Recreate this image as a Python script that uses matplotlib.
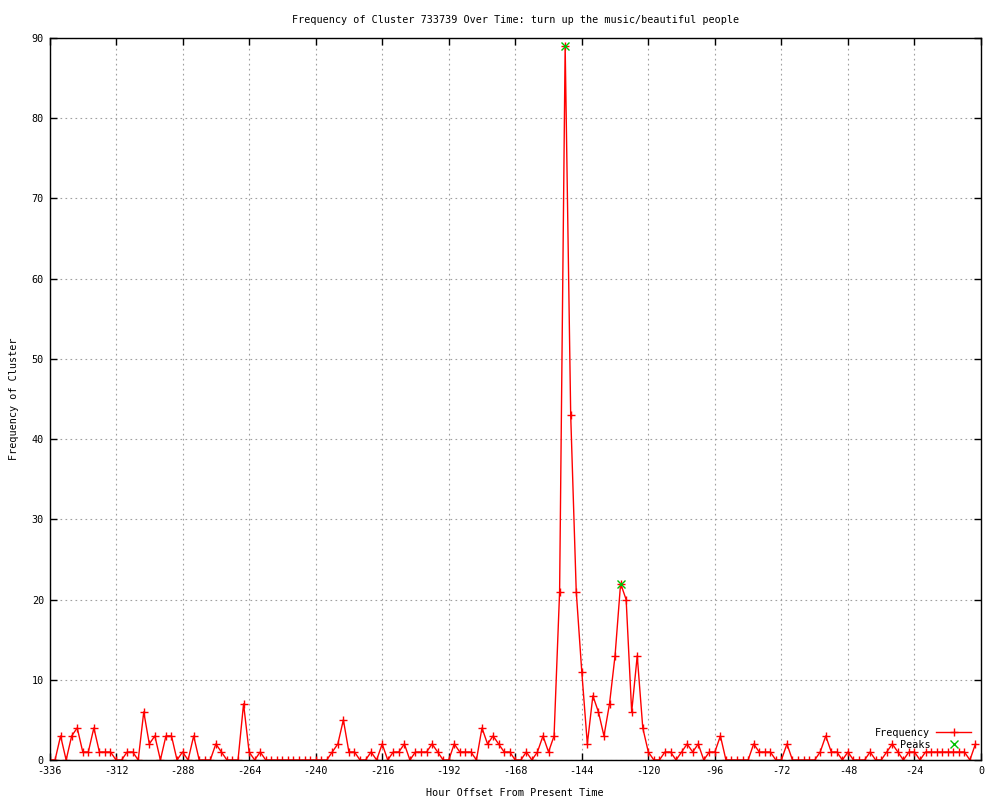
# Frequency of cluster over time (gnuplot-style line chart)
import numpy as np
from matplotlib import pyplot as plt

# hour offsets, one sample every 2 hours
hours = np.arange(-336, 0, 2)

freq = [
    0, 0, 3, 0, 3, 4, 1, 1, 4, 1, 1, 1, 0, 0, 1, 1, 0, 6, 2, 3,
    0, 3, 3, 0, 1, 0, 3, 0, 0, 0, 2, 1, 0, 0, 0, 7, 1, 0, 1, 0,
    0, 0, 0, 0, 0, 0, 0, 0, 0, 0, 0, 1, 2, 5, 1, 1, 0, 0, 1, 0,
    2, 0, 1, 1, 2, 0, 1, 1, 1, 2, 1, 0, 0, 2, 1, 1, 1, 0, 4, 2,
    3, 2, 1, 1, 0, 0, 1, 0, 1, 3, 1, 3, 21, 89, 43, 21, 11, 2, 8, 6,
    3, 7, 13, 22, 20, 6, 13, 4, 1, 0, 0, 1, 1, 0, 1, 2, 1, 2, 0, 1,
    1, 3, 0, 0, 0, 0, 0, 2, 1, 1, 1, 0, 0, 2, 0, 0, 0, 0, 0, 1,
    3, 1, 1, 0, 1, 0, 0, 0, 1, 0, 0, 1, 2, 1, 0, 1, 1, 0, 1, 1,
    1, 1, 1, 1, 1, 1, 0, 2,
]

peak_hours = [-150, -130]
peak_values = [89, 22]

x_ticks = list(range(-336, 1, 24))
y_ticks = list(range(0, 91, 10))

plt.rcParams['font.family'] = ['DejaVu Sans Mono']
plt.rcParams['font.size'] = 7.3
plt.rcParams['axes.unicode_minus'] = False

fig = plt.figure(figsize=(10, 8), dpi=100)
ax = fig.add_axes([0.0495, 0.05, 0.9315, 0.9025])

ax.plot(hours, freq, color='#ff0000', lw=1, marker='+', ms=5.5, mew=1,
        label='Frequency')
ax.plot(peak_hours, peak_values, color='#00c000', ls='none', marker='x',
        ms=6, mew=1, label='Peaks')

ax.set_xlim(-336, 0)
ax.set_ylim(0, 90)
ax.set_xticks(x_ticks)
ax.set_yticks(y_ticks)
ax.tick_params(direction='in', top=True, right=True, length=5, width=1,
               labelsize=7.3, pad=4)
ax.grid(True, color='#a0a0a0', ls=(0, (1.5, 3)), lw=0.8)
for s in ax.spines.values():
    s.set_linewidth(1)

ax.set_title('Frequency of Cluster 733739 Over Time: turn up the music/beautiful people',
             fontsize=7.3, pad=11)
ax.set_xlabel('Hour Offset From Present Time', fontsize=7.3, labelpad=9)
ax.set_ylabel('Frequency of Cluster', fontsize=7.3, labelpad=9)

ax.legend(loc='lower right', markerfirst=False, frameon=False, fontsize=7.3,
          handlelength=3.4, handletextpad=0.6, labelspacing=0.2,
          borderaxespad=0.6)

plt.savefig('out.png')
